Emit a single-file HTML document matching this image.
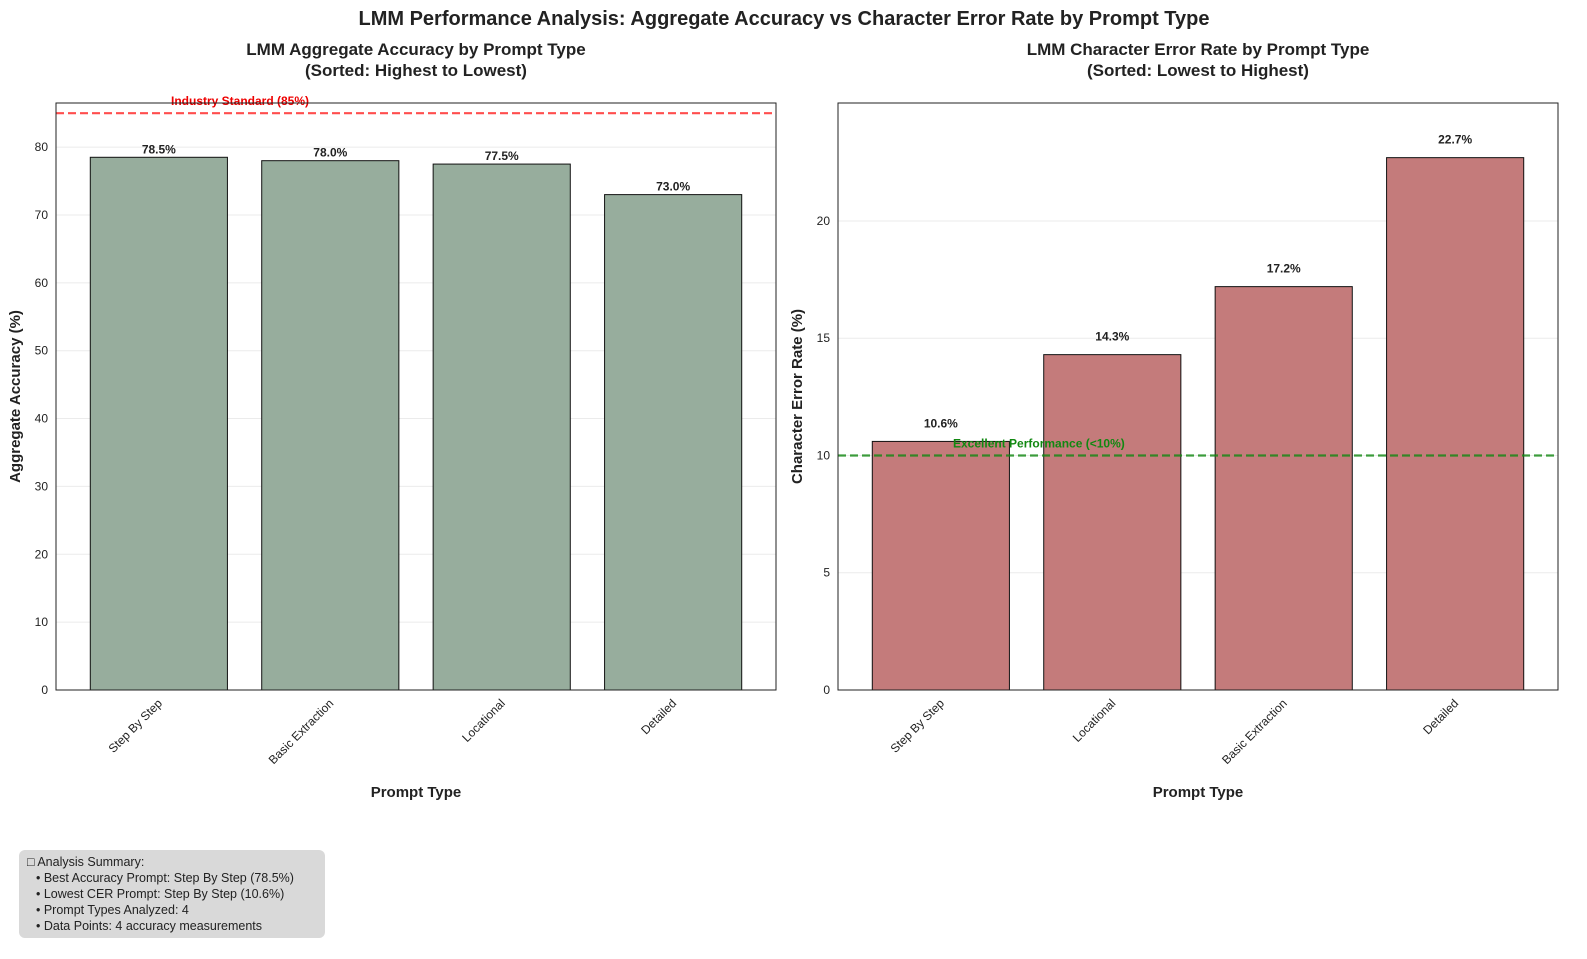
<!DOCTYPE html>
<html><head><meta charset="utf-8"><style>
body{margin:0;background:#fff;font-family:"Liberation Sans","DejaVu Sans",sans-serif}
svg text{font-family:"Liberation Sans","DejaVu Sans",sans-serif}
</style></head><body>
<svg id="c" width="1587" height="954" xmlns="http://www.w3.org/2000/svg">
<rect width="1587" height="954" fill="#fff"/>
<text x="784" y="25" text-anchor="middle" font-size="20" font-weight="bold" fill="#222">LMM Performance Analysis: Aggregate Accuracy vs Character Error Rate by Prompt Type</text>
<g>
<rect x="19" y="850" width="306" height="88" rx="6" fill="#d9d9d9"/>
<text font-size="12.5" fill="#222">
<tspan x="27" y="866">□ Analysis Summary:</tspan>
<tspan x="36" y="882">• Best Accuracy Prompt: Step By Step (78.5%)</tspan>
<tspan x="36" y="898">• Lowest CER Prompt: Step By Step (10.6%)</tspan>
<tspan x="36" y="914">• Prompt Types Analyzed: 4</tspan>
<tspan x="36" y="930">• Data Points: 4 accuracy measurements</tspan>
</text></g>
</svg>
<script>
const accCats=["Step By Step","Basic Extraction","Locational","Detailed"];
const accVals=[78.5,78.0,77.5,73.0];
const accTicks=[0,10,20,30,40,50,60,70,80];
const cerCats=["Step By Step","Locational","Basic Extraction","Detailed"];
const cerVals=[10.6,14.3,17.2,22.7];
const cerTicks=[0,5,10,15,20];
const svg=document.getElementById('c');
const NS='http://www.w3.org/2000/svg';
function mk(t,a,p){const e=document.createElementNS(NS,t);for(const k in a)e.setAttribute(k,a[k]);(p||svg).appendChild(e);return e;}
function panel(o){
  const g=mk('g',{});
  
  
  const L=o.x0,R=o.x1,T=103,B=690;
  const y=v=>B-(v/o.ymax)*(B-T);
  const n=o.cats.length;const xs=(R-L)/(n+0.2);
  const x=i=>L+(i+0.6)*xs;
  o.ticks.forEach(t=>{
    if(t>0){mk('line',{x1:L,x2:R,y1:y(t),y2:y(t),stroke:'#ebebeb','stroke-width':1},g);}
    const tl=mk('text',{x:L-8,y:y(t)+4,'text-anchor':'end','font-size':12,fill:'#222'},g);tl.textContent=t;
    
    
  });
  o.cats.forEach((c,i)=>{
    const v=o.vals[i];
    const r=mk('rect',{x:x(i)-0.4*xs,y:y(v),width:0.8*xs,height:B-y(v),fill:o.color,stroke:'#111','stroke-width':1},g);
    
    
    const vl=mk('text',{x:x(i),y:y(v)-o.lab,'text-anchor':'middle','font-size':12,'font-weight':'bold',fill:'#222'},g);vl.textContent=v.toFixed(1)+'%';
    
    
    const xl=mk('text',{x:0,y:0,'text-anchor':'end','font-size':12,fill:'#222',transform:`translate(${x(i)+4},${B+14}) rotate(-45)`},g);xl.textContent=c;
    
    
  });
  const rl=mk('line',{x1:L,x2:R,y1:y(o.ref),y2:y(o.ref),stroke:o.refColor,'stroke-width':2.2,'stroke-dasharray':'8,4',opacity:0.8},g);
  
  
  const rt=mk('text',{x:o.refX,y:y(o.ref)-8,'font-size':12,'font-weight':'bold',fill:o.refText},g);rt.textContent=o.refLabel;
  
  
  mk('rect',{x:L,y:T,width:R-L,height:B-T,fill:'none',stroke:'#222','stroke-width':1},g);
  const cx=(L+R)/2;
  const t1=mk('text',{x:cx,y:55,'text-anchor':'middle','font-size':17,'font-weight':'bold',fill:'#222'},g);t1.textContent=o.t1;
  
  
  const t2=mk('text',{x:cx,y:76,'text-anchor':'middle','font-size':17,'font-weight':'bold',fill:'#222'},g);t2.textContent=o.t2;
  const xa=mk('text',{x:cx,y:797,'text-anchor':'middle','font-size':15,'font-weight':'bold',fill:'#222'},g);xa.textContent='Prompt Type';
  
  
  const ya=mk('text',{x:0,y:0,'text-anchor':'middle','font-size':15,'font-weight':'bold',fill:'#222',transform:`translate(${L-36},${(T+B)/2}) rotate(-90)`},g);ya.textContent=o.ytitle;
  
  
}
panel({name:'accuracy-panel',x0:56,x1:776,ymax:86.5,cats:accCats,vals:accVals,ticks:accTicks,color:'#97ad9d',lab:4,ref:85,refColor:'#ff2222',refText:'#ee0000',refX:171,refLabel:'Industry Standard (85%)',t1:'LMM Aggregate Accuracy by Prompt Type',t2:'(Sorted: Highest to Lowest)',ytitle:'Aggregate Accuracy (%)'});
panel({name:'cer-panel',x0:838,x1:1558,ymax:25.03,cats:cerCats,vals:cerVals,ticks:cerTicks,color:'#c47b7b',lab:14,ref:10,refColor:'#118811',refText:'#118811',refX:953,refLabel:'Excellent Performance (<10%)',t1:'LMM Character Error Rate by Prompt Type',t2:'(Sorted: Lowest to Highest)',ytitle:'Character Error Rate (%)'});
</script>
</body></html>
